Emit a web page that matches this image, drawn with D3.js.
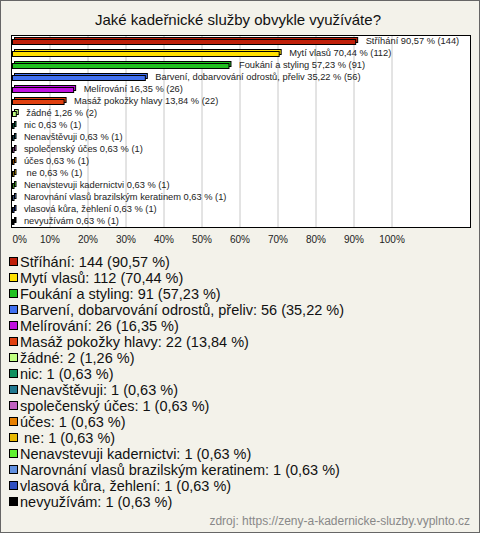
<!DOCTYPE html>
<html><head><meta charset="utf-8">
<script src="https://cdn.jsdelivr.net/npm/d3@7"></script>
<style>
html,body{margin:0;padding:0;background:#f3f2ea;}
svg{display:block;font-family:Arial,"Liberation Sans",sans-serif;}
svg text{white-space:pre;}
</style></head>
<body>
<svg id="c" width="480" height="533"></svg>
<script>
const title = "Jaké kadeřnické služby obvykle využíváte?";
const categories = ["Stříhání","Mytí vlasů","Foukání a styling","Barvení, dobarvování odrostů, přeliv","Melírování","Masáž pokožky hlavy","žádné","nic","Nenavštěvuji","společenský účes","účes"," ne","Nenavstevuji kadernictvi","Narovnání vlasů brazilským keratinem","vlasová kůra, žehlení","nevyužívám"];
const counts = [144,112,91,56,26,22,2,1,1,1,1,1,1,1,1,1];
const percents = [90.57,70.44,57.23,35.22,16.35,13.84,1.26,0.63,0.63,0.63,0.63,0.63,0.63,0.63,0.63,0.63];
const colors = ["#c0200a","#ffe000","#20c020","#4070f0","#c010e0","#e04010","#c0ff80","#109060","#207890","#c060c0","#e88000","#e8b800","#60f030","#6090e0","#3050c0","#000000"];
const tickValues = [0,10,20,30,40,50,60,70,80,90,100];
const source = "zdroj: https://zeny-a-kadernicke-sluzby.vyplnto.cz";

const fmt = v => v.toFixed(2).replace(".", ",");
const svg = d3.select("#c");
const W = 480, H = 533;

svg.append("rect").attr("x",0.5).attr("y",0.5).attr("width",W-1).attr("height",H-1)
  .attr("fill","#f3f2ea").attr("stroke","#666");

svg.append("text").attr("x",238).attr("y",25).attr("text-anchor","middle")
  .attr("font-size",15).attr("fill","#111").text(title);

const plot = {l:11.5, r:470.5, t:35.5, b:227.5};
const x = d3.scaleLinear().domain([0,100]).range([11.5,391.5]);
const y = d3.scaleBand().domain(categories).range([35,227]).paddingInner(0);

svg.append("rect").attr("x",plot.l).attr("y",plot.t).attr("width",plot.r-plot.l).attr("height",plot.b-plot.t)
  .attr("fill","#fff").attr("stroke","none");

// gridlines
const grid = svg.append("g").attr("transform",`translate(0,${plot.b})`)
  .call(d3.axisBottom(x).tickValues(tickValues.slice(1)).tickSize(-(plot.b-plot.t)).tickFormat(""));
grid.select(".domain").remove();
grid.selectAll("line").attr("stroke","#c8c8c8");

svg.append("rect").attr("x",plot.l).attr("y",plot.t).attr("width",plot.r-plot.l).attr("height",plot.b-plot.t)
  .attr("fill","none").attr("stroke","#000");

const rows = categories.map((c,i)=>({c, n:counts[i], p:percents[i], col:colors[i]}));
const bars = svg.append("g");
rows.forEach(d=>{
  const cy = y(d.c) + y.bandwidth()/2;
  const x0 = x(0)+1, x1 = x(d.p);
  const w = Math.max(x1-x0, 1.5);
  bars.append("rect").attr("x",x0+2).attr("y",cy-3.5).attr("width",w).attr("height",5)
    .attr("fill",d.col).attr("stroke","#000").attr("stroke-width",1);
  bars.append("rect").attr("x",x0).attr("y",cy-1.5).attr("width",w).attr("height",5)
    .attr("fill",d.col).attr("stroke","#000").attr("stroke-width",1);
  bars.append("text").attr("x",x1+10).attr("y",cy).attr("dy","0.35em")
    .attr("font-size",9.3).attr("fill","#222")
    .text(`${d.c} ${fmt(d.p)} % (${d.n})`);
});

// axis labels
const ax = svg.append("g").attr("transform",`translate(0,233)`)
  .call(d3.axisBottom(x).tickValues(tickValues).tickSize(0).tickFormat(d=>d+"%"));
ax.select(".domain").remove();
ax.selectAll("text").attr("font-size",10).attr("fill","#222").attr("font-family","Arial,'Liberation Sans',sans-serif");
ax.selectAll(".tick").filter(d=>d===0).select("text").attr("text-anchor","start").attr("x",0.5);

// legend
const leg = svg.append("g");
rows.forEach((d,i)=>{
  const cy = 262 + i*16;
  leg.append("rect").attr("x",9.5).attr("y",cy-4.5).attr("width",8).attr("height",8)
    .attr("fill",d.col).attr("stroke","#000");
  leg.append("text").attr("x",20).attr("y",cy).attr("dy","0.36em")
    .attr("font-size",14.5).attr("fill","#111")
    .text(`${d.c}: ${d.n} (${fmt(d.p)} %)`);
});

svg.append("text").attr("x",470).attr("y",525).attr("text-anchor","end")
  .attr("font-size",12).attr("fill","#888").text(source);
</script>
</body></html>
